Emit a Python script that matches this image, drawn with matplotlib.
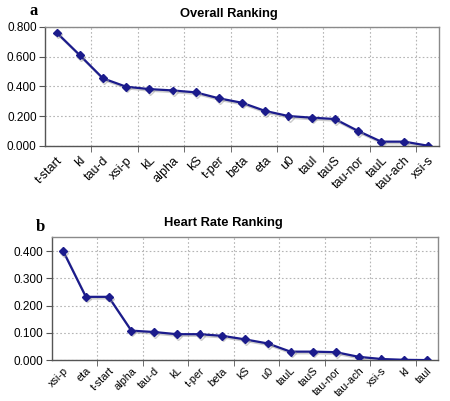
import matplotlib
matplotlib.use("Agg")
import matplotlib.pyplot as plt
import matplotlib.patheffects as pe
import matplotlib.transforms as mtransforms
import numpy as np

plt.rcParams['font.family'] = ['Liberation Sans', 'DejaVu Sans']

# panel a - overall ranking
overall_labels = ['t-start', 'kl', 'tau-d', 'xsi-p', 'kL', 'alpha', 'kS', 't-per', 'beta',
                  'eta', 'u0', 'taul', 'tauS', 'tau-nor', 'tauL', 'tau-ach', 'xsi-s']
overall_values = [0.762, 0.610, 0.454, 0.398, 0.382, 0.373, 0.360, 0.320, 0.290,
                  0.235, 0.201, 0.190, 0.181, 0.101, 0.029, 0.029, 0.002]
overall_yticks = [0.0, 0.2, 0.4, 0.6, 0.8]

# panel b - heart rate ranking
hr_labels = ['xsi-p', 'eta', 't-start', 'alpha', 'tau-d', 'kL', 't-per', 'beta', 'kS',
             'u0', 'tauL', 'tauS', 'tau-nor', 'tau-ach', 'xsi-s', 'kl', 'taul']
hr_values = [0.400, 0.232, 0.232, 0.108, 0.103, 0.095, 0.095, 0.089, 0.076,
             0.061, 0.031, 0.031, 0.029, 0.012, 0.004, 0.001, 0.000]
hr_yticks = [0.0, 0.1, 0.2, 0.3, 0.4]

line_color = '#1b1b8c'
frame_color = '#8a8a8a'


def draw_panel(ax, labels, values, yticks, ymax, title, letter, letter_xy, title_xy,
               xlab_size=9, xlab_pad=6):
    x = np.arange(len(labels))
    ax.plot(x, values, color=line_color, lw=1.6, marker='D', ms=4,
            path_effects=[pe.SimpleLineShadow(offset=(0.8, -1.2), shadow_color='#9a9a9a', alpha=0.5),
                          pe.Normal()], zorder=3)
    ax.set_xlim(-0.5, len(labels) - 0.5)
    ax.set_ylim(0, ymax)
    ax.set_yticks(yticks)
    ax.set_yticklabels(['%.3f' % v for v in yticks], fontsize=8.5)
    ax.set_xticks(x)
    ax.set_xticklabels(labels, rotation=45, ha='right', rotation_mode='anchor', fontsize=xlab_size)
    # nudge the rotated labels a little to the left, like the original
    shift = mtransforms.ScaledTranslation(-4 / 72, 0, fig.dpi_scale_trans)
    for lab in ax.get_xticklabels():
        lab.set_transform(lab.get_transform() + shift)
    ax.set_xticks(np.arange(1.5, len(labels) - 1, 2), minor=True)
    ax.tick_params(axis='x', which='major', length=0, pad=xlab_pad)
    ax.tick_params(axis='x', which='minor', length=4, color='#555555', direction='out')
    ax.tick_params(axis='y', length=4, color='#555555', pad=2)
    ax.grid(True, which='minor', axis='x', color='#b5b5b5', ls=(0, (1.5, 2)), lw=0.8)
    ax.grid(True, which='major', axis='y', color='#b5b5b5', ls=(0, (1.5, 2)), lw=0.8)
    for s in ax.spines.values():
        s.set_color(frame_color)
        s.set_linewidth(1.0)
    ax.spines['left'].set_color('#555555')
    ax.spines['bottom'].set_color('#555555')
    fig.text(title_xy[0], title_xy[1], title, ha='center', va='center',
             fontsize=9.3, fontweight='bold')
    fig.text(letter_xy[0], letter_xy[1], letter, ha='center', va='center',
             fontsize=12, fontweight='bold', family='Liberation Serif')


fig = plt.figure(figsize=(4.5, 4.01), dpi=100)
ax1 = fig.add_axes([0.100, 0.636, 0.876, 0.297])
ax2 = fig.add_axes([0.115, 0.102, 0.859, 0.306])

draw_panel(ax1, overall_labels, overall_values, overall_yticks, 0.8,
           'Overall Ranking', 'a', (0.074, 0.972), (0.509, 0.965))
draw_panel(ax2, hr_labels, hr_values, hr_yticks, 0.45,
           'Heart Rate Ranking', 'b', (0.089, 0.433), (0.496, 0.444),
           xlab_size=7.8, xlab_pad=4)

fig.savefig('out.png', dpi=100)
